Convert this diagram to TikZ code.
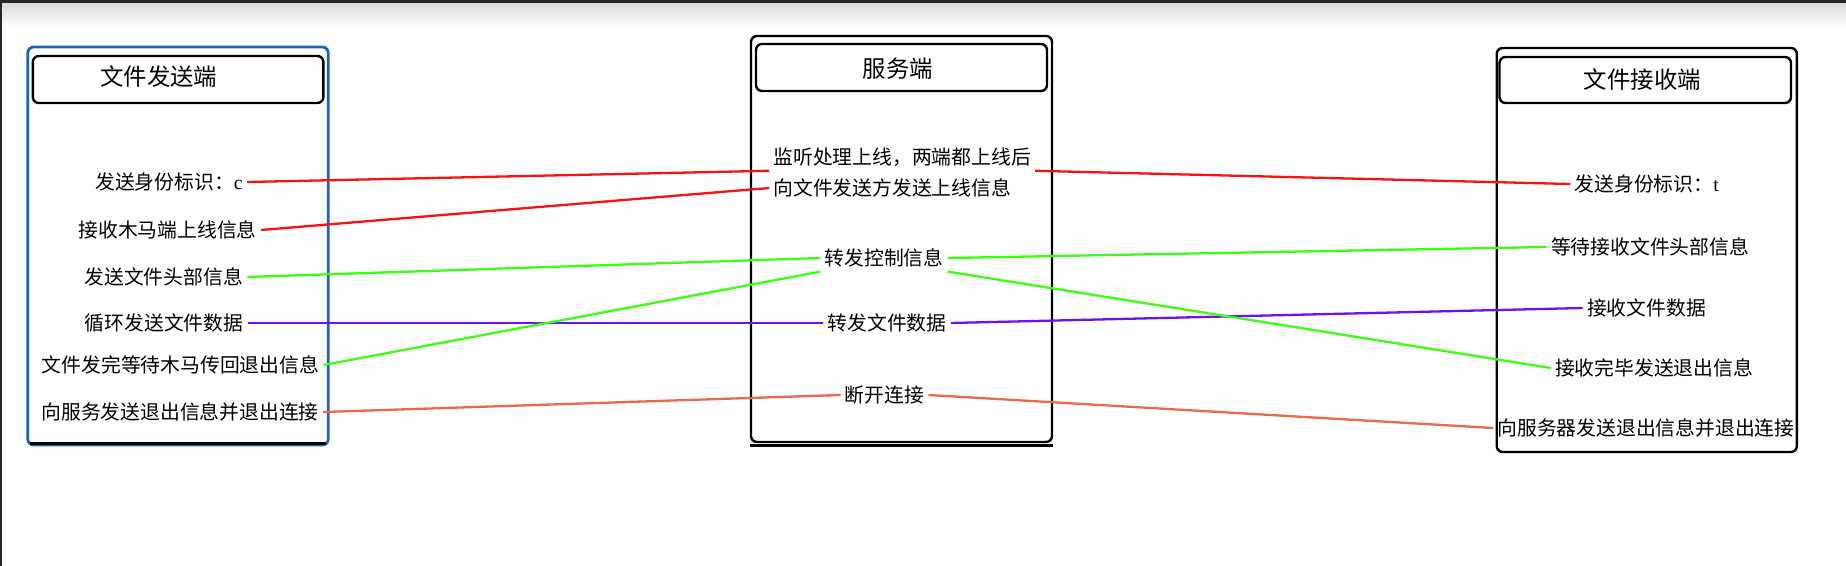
\documentclass[tikz,border=0pt]{standalone}
\usepackage{fontspec}
\setmainfont{Noto Sans CJK SC}
\newfontfamily\latinrm{Liberation Serif}
\definecolor{senderblue}{HTML}{1565C0}
\definecolor{linkred}{HTML}{FF1010}
\definecolor{linkgreen}{HTML}{3CFF14}
\definecolor{linkpurple}{HTML}{6A14EB}
\definecolor{linkorange}{HTML}{E96A48}

\begin{document}
\begin{tikzpicture}[
      x=0.5pt,y=-0.5pt,
      panel/.style={draw=black,line width=1.2pt,rounded corners=3pt,
        inner sep=0pt},
      head/.style={draw=black,line width=1.2pt,rounded corners=3pt,
        inner sep=0pt,minimum height=23.5pt},
      headtext/.style={font=\fontsize{11.7}{14}\selectfont,inner sep=0pt},
      item/.style={font=\fontsize{9.9}{12}\selectfont,inner sep=2pt},
      link/.style={line width=1.15pt}
    ]
    \useasboundingbox (0,0) rectangle (1846,566);
    \shade[top color=black!14,bottom color=white] (0,3) rectangle (1846,28);
    \fill[black!85] (0,0) rectangle (1846,3);
    \fill[black!85] (0,0) rectangle (1.5,566);

    \node[panel,draw=senderblue,line width=1.4pt,minimum width=150.25pt,
      minimum height=199pt] (sender) at (178,246) {};
    \draw[line width=1.2pt] ([xshift=2pt,yshift=1.4pt]sender.south west)
      -- ([xshift=-2pt,yshift=1.4pt]sender.south east);
    \node[head,minimum width=145.3pt] (senderhead) at (178.1,79.5) {};
    \node[headtext] (sendertitle) at (158.8,77) {文件发送端};
    \node[item] (sid) at (169,182) {发送身份标识：{\latinrm c}};
    \node[item] (sonline) at (167.5,230) {接收木马端上线信息};
    \node[item] (shead) at (163.7,277) {发送文件头部信息};
    \node[item] (sdata) at (164,323) {循环发送文件数据};
    \node[item] (sdone) at (180.5,365) {文件发完等待木马传回退出信息};
    \node[item] (squit) at (180,412) {向服务发送退出信息并退出连接};

    \node[panel,minimum width=150.5pt,minimum height=203pt] (server)
      at (901.5,239) {};
    \draw[line width=1.2pt] ([yshift=-1.1pt]server.south west)
      -- ([yshift=-1.1pt]server.south east);
    \node[head,minimum width=145.5pt] (serverhead) at (901.5,67.5) {};
    \node[headtext] (servertitle) at (898,69) {服务端};
    \node[item,anchor=west] (listen) at (769,157) {监听处理上线，两端都上线后};
    \node[item,anchor=west] (notify) at (769,188) {向文件发送方发送上线信息};
    \node[item] (ctrl) at (884,258) {转发控制信息};
    \node[item] (fwd) at (887,323) {转发文件数据};
    \node[item] (disc) at (884.5,395) {断开连接};

    \node[panel,minimum width=150.1pt,minimum height=202pt] (receiver)
      at (1646.8,250) {};
    \node[head,minimum width=145.75pt,minimum height=23pt] (receiverhead)
      at (1645.25,80) {};
    \node[headtext] (receivertitle) at (1642.4,80) {文件接收端};
    \node[item] (tid) at (1646.8,184) {发送身份标识：{\latinrm t}};
    \node[item] (rwait) at (1650,247) {等待接收文件头部信息};
    \node[item] (rdata) at (1646.5,308) {接收文件数据};
    \node[item] (rdone) at (1654,368) {接收完毕发送退出信息};
    \node[item] (rquit) at (1646,428) {向服务器发送退出信息并退出连接};

    \draw[link,linkred] (sid.east) -- (listen.south west);
    \draw[link,linkred] (listen.south east) -- (tid.west);
    \draw[link,linkred] (sonline.east) -- (notify.west);
    \draw[link,linkgreen] (shead.east) -- (ctrl.west);
    \draw[link,linkgreen] (ctrl.east) -- (rwait.west);
    \draw[link,linkpurple] (sdata.east) -- (fwd.west);
    \draw[link,linkpurple] (fwd.east) -- (rdata.west);
    \draw[link,linkgreen] (sdone.east) -- (ctrl.south west);
    \draw[link,linkgreen] (ctrl.south east) -- (rdone.west);
    \draw[link,linkorange] (squit.east) -- (disc.west);
    \draw[link,linkorange] (disc.east) -- (rquit.west);
  \end{tikzpicture}
\end{document}
